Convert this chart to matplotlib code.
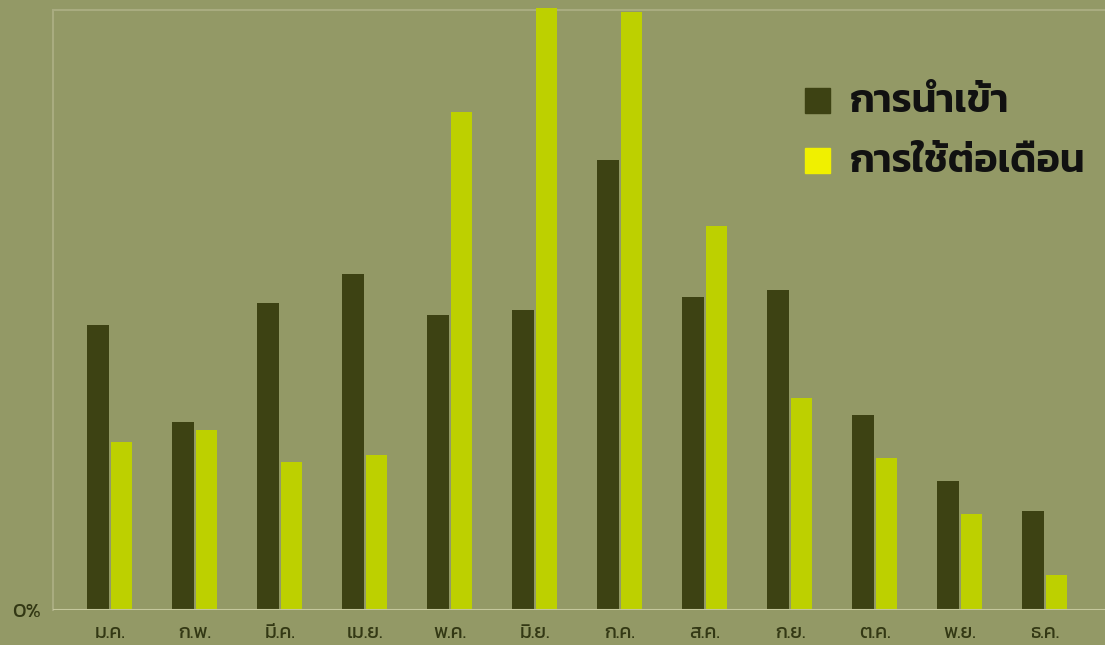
import matplotlib
matplotlib.use("Agg")
import matplotlib.pyplot as plt
from matplotlib import font_manager
from matplotlib.patches import Rectangle

# data (bar heights, arbitrary units, top of plot = 600)
months = ['ม.ค.', 'ก.พ.', 'มี.ค.', 'เม.ย.', 'พ.ค.', 'มิ.ย.',
          'ก.ค.', 'ส.ค.', 'ก.ย.', 'ต.ค.', 'พ.ย.', 'ธ.ค.']
imports = [285, 188, 307, 336, 295, 300, 450, 313, 320, 195, 129, 99]
usage = [168, 180, 148, 155, 498, 602, 598, 384, 212, 152, 96, 35]
series_names = ['การนำเข้า', 'การใช้ต่อเดือน']

# pick a Thai font that is actually installed
names = set(f.name for f in font_manager.fontManager.ttflist)
thai = [n for n in ['Kanit', 'Prompt', 'Mitr', 'Noto Sans Thai', 'Bai Jamjuree'] if n in names]
plt.rcParams['font.family'] = thai[:1] + ['DejaVu Sans']

bg = '#939966'
dark = '#3d4213'
light = '#bdd000'
edge = '#c4c79c'
txt = '#333814'

W, H = 1105, 645
fig = plt.figure(figsize=(W / 100, H / 100), dpi=100, facecolor=bg)
ax = fig.add_axes([53 / W, 35 / H, (W - 53) / W, 600 / H])
ax.set_facecolor(bg)

x = list(range(len(months)))
w = 0.25
ax.bar([i - 0.14 for i in x], imports, width=w, color=dark, zorder=3)
ax.bar([i + 0.14 for i in x], usage, width=w, color=light, zorder=3, clip_on=False)

ax.set_xlim(-0.67, -0.67 + (W - 53) / 85)
ax.set_ylim(0, 600)

for s in ['right', 'bottom']:
    ax.spines[s].set_visible(False)
for s in ['top', 'left']:
    ax.spines[s].set_color('#a9ac80')
    ax.spines[s].set_linewidth(1.5)
ax.axhline(0, color=edge, linewidth=1.5, zorder=4)

ax.set_xticks(x)
ax.set_xticklabels(months, fontsize=14, color=txt)
ax.set_yticks([0])
ax.set_yticklabels(['0%'], fontsize=15, color=txt)
ax.tick_params(length=0)
ax.tick_params(axis='x', pad=11)
ax.tick_params(axis='y', pad=9)

# legend drawn by hand to match the large bold labels
leg_colors = [dark, '#f0f000']
leg_top = [88, 148]
for name, c, top in zip(series_names, leg_colors, leg_top):
    yb = (H - top - 25) / H
    fig.patches.append(Rectangle((805 / W, yb), 25 / W, 25 / H,
                                 transform=fig.transFigure, color=c))
    fig.text(850 / W, yb + 10 / H, name, fontsize=28.5, fontweight='semibold',
             color='#111111', va='center')

fig.savefig('out.png', facecolor=bg)
